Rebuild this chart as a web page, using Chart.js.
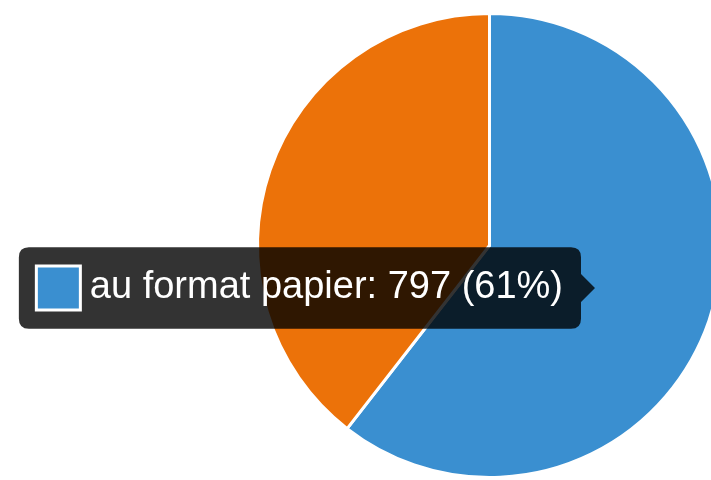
<!DOCTYPE html>
<html>
<head>
<meta charset="utf-8">
<script src="https://cdn.jsdelivr.net/npm/chart.js@4"></script>
<style>
  html, body { margin: 0; padding: 0; background: #fff; overflow: hidden; }
  #pie { display: block; }
</style>
</head>
<body>
<canvas id="pie" width="740" height="480"></canvas>
<script>
// donnees
const labels = ['au format papier', 'au format numérique'];
const amounts = [797, 520];
const colors = ['#3a8fd0', '#ec7209'];

// tooltip placed where the mouse was when the picture was taken
Chart.Tooltip.positioners.atEvent = function (elements, eventPosition) {
    return eventPosition;
};

let ctx = document.getElementById('pie').getContext('2d');
let pieChart = new Chart(ctx, {
    type: 'pie',
    data: {
        labels: labels,
        datasets: [{
            data: amounts,
            backgroundColor: colors,
            borderColor: '#fff',
            borderWidth: 3
        }]
    },
    options: {
        responsive: false,
        animation: false,
        events: [],
        layout: {
            padding: { left: 256, right: 17, top: 12, bottom: 1 }
        },
        plugins: {
            legend: { display: false },
            tooltip: {
                position: 'atEvent',
                xAlign: 'right',
                yAlign: 'center',
                backgroundColor: 'rgba(0, 0, 0, 0.8)',
                bodyColor: '#fff',
                bodyFont: { family: 'Liberation Sans, Arial, sans-serif', size: 38, lineHeight: 1.2 },
                padding: 18,
                cornerRadius: 10,
                caretSize: 14,
                caretPadding: 0,
                boxWidth: 43,
                boxHeight: 43,
                boxPadding: 8,
                callbacks: {
                    title: function () {
                        return '';
                    },
                    label: function (item) {
                        let total = 0;
                        for (let num of amounts) {
                            total += num;
                        }
                        let pct = Math.round(item.raw / total * 100);
                        return item.label + ': ' + item.raw + ' (' + pct + '%)';
                    },
                    labelColor: function (item) {
                        return { borderColor: '#fff', backgroundColor: colors[item.dataIndex], borderWidth: 4 };
                    }
                }
            }
        }
    }
});

pieChart.tooltip.setActiveElements([{ datasetIndex: 0, index: 0 }], { x: 595, y: 288 });
pieChart.update();
</script>
</body>
</html>
